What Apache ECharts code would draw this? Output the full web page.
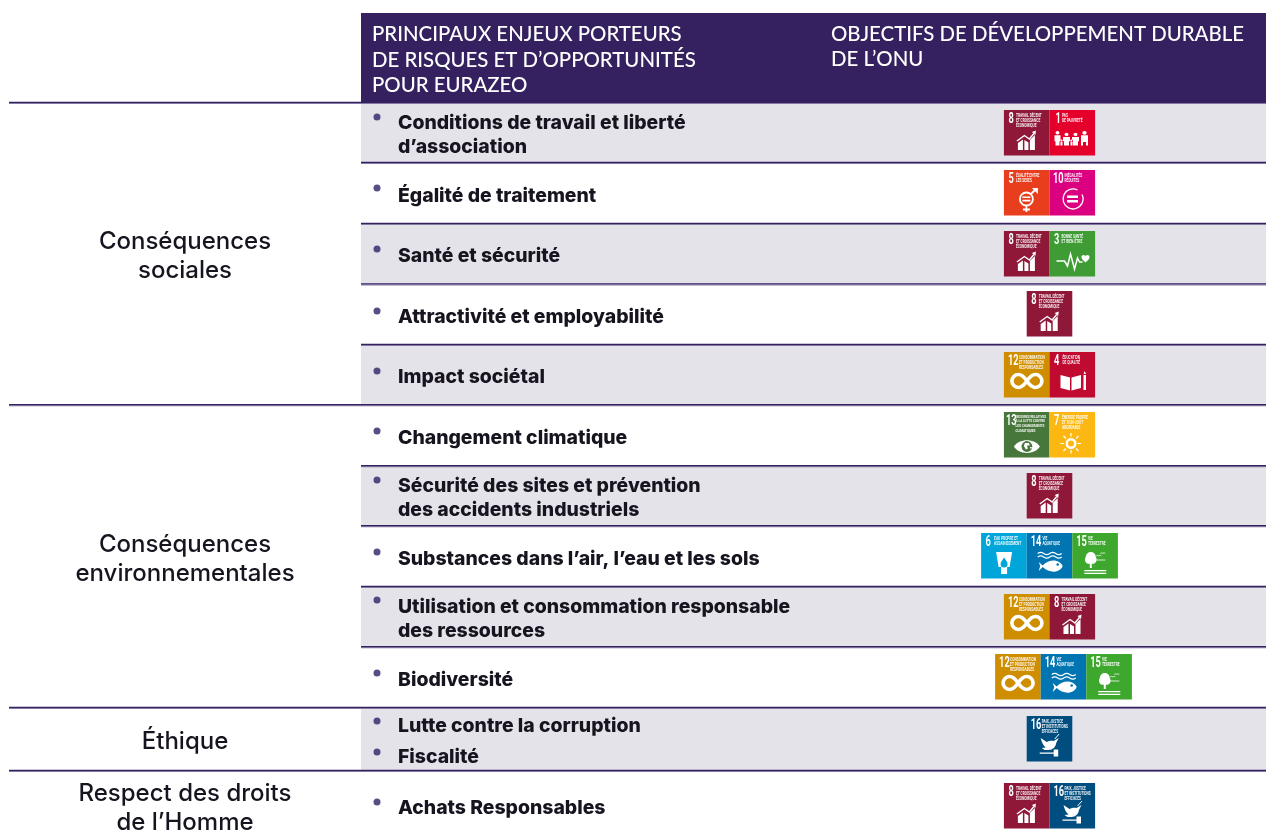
<!DOCTYPE html>
<html><head><meta charset="utf-8">
<style>html,body{margin:0;padding:0;background:#fff}#c{width:1266px;height:834px}</style>
<script src="https://cdn.jsdelivr.net/npm/echarts@6/dist/echarts.min.js"></script>
</head><body><div id="c"></div>
<script>
// ---------- content ----------
const headerLeft = ["PRINCIPAUX ENJEUX PORTEURS", "DE RISQUES ET D’OPPORTUNITÉS", "POUR EURAZEO"];
const headerRight = ["OBJECTIFS DE DÉVELOPPEMENT DURABLE", "DE L’ONU"];
const groupLabels = [["Conséquences", "sociales"], ["Conséquences", "environnementales"], ["Éthique"], ["Respect des droits", "de l’Homme"]];
const issues = [
  ["Conditions de travail et liberté", "d’association"],
  ["Égalité de traitement"],
  ["Santé et sécurité"],
  ["Attractivité et employabilité"],
  ["Impact sociétal"],
  ["Changement climatique"],
  ["Sécurité des sites et prévention", "des accidents industriels"],
  ["Substances dans l’air, l’eau et les sols"],
  ["Utilisation et consommation responsable", "des ressources"],
  ["Biodiversité"],
  ["Lutte contre la corruption", "Fiscalité"],
  ["Achats Responsables"]
];
const rowGoals = [[8,1],[5,10],[8,3],[8],[12,4],[13,7],[8],[6,14,15],[12,8],[12,14,15],[16],[8,16]];
const goalNames = {
  1:["PAS","DE PAUVRETÉ"], 3:["BONNE SANTÉ","ET BIEN-ÊTRE"], 4:["ÉDUCATION","DE QUALITÉ"],
  5:["ÉGALITÉ ENTRE","LES SEXES"], 6:["EAU PROPRE ET","ASSAINISSEMENT"], 7:["ÉNERGIE PROPRE","ET D’UN COÛT","ABORDABLE"],
  8:["TRAVAIL DÉCENT","ET CROISSANCE","ÉCONOMIQUE"], 10:["INÉGALITÉS","RÉDUITES"],
  12:["CONSOMMATION","ET PRODUCTION","RESPONSABLES"], 13:["MESURES RELATIVES","À LA LUTTE CONTRE","LES CHANGEMENTS","CLIMATIQUES"],
  14:["VIE","AQUATIQUE"], 15:["VIE","TERRESTRE"], 16:["PAIX, JUSTICE","ET INSTITUTIONS","EFFICACES"]
};
const goalColors = {1:"#E4002B",3:"#3F9C35",4:"#C00A30",5:"#E83E1E",6:"#00A6D9",7:"#FDB713",8:"#8F1838",10:"#DB0080",12:"#CF8D00",13:"#48773C",14:"#0075B2",15:"#3EA72D",16:"#004E7F"};

// ---------- layout ----------
const W = 1266, H = 834;
const ruleY = [102.7,162.7,223.7,284.2,344.7,405,466,526,586.7,647,707.7,770.7];
const groupRuleRows = [0,5,10,11];
const tileTop = [110,170,231,291,352,412,473,533,594,654,716,783];
const tileCentre = [1049.5,1049.5,1049.5,1049.5,1049.5,1049.5,1049.5,1049.5,1049.5,1063.5,1049.5,1049.5];
const lineY = [[122,146],[195],[255],[316],[376],[437],[485,509],[558],[606,630],[679],[725,756],[807]];
const bulletY = [[117],[188],[249],[311],[371],[431],[480],[552],[600],[673],[721,752],[802]];
const groupLineY = [[241,270],[544,573],[740.5],[793,822]];
const headerLeftY = [34,59.5,85], headerRightY = [33.5,59];
const TEXT_DY = 1.5, GROUP_DY = 1, HEAD_DY = 0.8;
const TILE = 45.6;
const INK="#17141F", PURPLE="#35215F", BAND="#E5E3EA", RULE="#35215F";
const BODY="Inter, sans-serif", TILEFONT="Roboto, sans-serif";
const numX = {1:6,3:4.5,4:4.5,5:4.5,6:4.5,7:4.5,8:4.5,10:3.5,12:4,13:2,14:4,15:4,16:4};
const capX = {1:12.5,3:12,4:13,5:12,6:13,7:12.5,8:12,10:15,12:15,13:11.7,14:15.7,15:15.7,16:15};

// icons in tile-local units (46 x 46): f = filled path, s = stroked path, f2 = filled above the cut-out
const icons = {
 1:{f:"M9 25a2 2 0 1 0 .01 0ZM18 27a2 2 0 1 0 .01 0ZM27 27a2 2 0 1 0 .01 0ZM36 25a2.200 2.200 0 1 0 .01 0ZM6 30h6v7h-1v5H7v-5H6ZM14.500 32h7v5h-1v5h-5v-5h-1ZM23.500 32h7v5h-1v5h-5v-5h-1ZM32.500 30h7v12h-2v-4h-3v4h-2ZM12.800 35a1.300 1.300 0 1 0 .01 0ZM23 35a1.300 1.300 0 1 0 .01 0ZM12 38h2v4h-2ZM22 38h2v4h-2Z",t:[-1,-.25,1,.85]},
 3:{s:"M7 30H15L18 35L21 23L25 38L28 27L30 31H33",f:"M36 25c1.500-2 4.500-1 4 1.500c-.4 2-2.400 3.500-4 5c-1.600-1.500-3.600-3-4-5c-.5-2.500 2.500-3.500 4-1.500Z"},
 4:{f:"M11 23L20.500 25.500V38.500L11 36ZM22 25.500L31.500 23V36L22 38.500ZM34 23h2.500v15H34ZM34 22l1.250-3l1.250 3Z"},
 5:{s:"M29 29a6.500 6.500 0 1 0-13 0a6.500 6.500 0 1 0 13 0ZM22.500 35.500V42M19 39.500H26M27 24L31.500 19.500",f:"M28 18H34V24ZM18.500 26.500h8v1.600h-8ZM18.500 29.800h8v1.600h-8Z",w:1.8},
 6:{f:"M15 19H31L28.500 34H26V41H20V34H17.500ZM23 24.500C21 27.500 19.500 29 19.500 31a3.500 3.500 0 0 0 7 0c0-2-1.500-3.500-3.500-6.500Z"},
 7:{s:"M21.500 21V24.500M21.500 38V41.500M11 31.500H14.500M28 31.500H31.500M14 24L16.500 26.500M26.500 36.500L29 39M14 39L16.500 36.500M26.500 26.500L29 24",f:"M21.500 26a5.500 5.500 0 1 0 .01 0ZM21.500 28.500a3 3 0 1 1-.01 0Z",w:1.2},
 8:{f:"M14 33L19 29.500V40H14ZM20.500 30L24.500 32.500V40H20.500ZM26 30L31 25V40H26Z",s:"M13 31L20.500 25.500L25.500 29L30 23.500",a:"M28 22L32 20.500L31.500 25Z",w:1.4},
 10:{s:"M28 20a10 10 0 1 0 4.500 4.500",f:"M17.500 25.500h11v2.400h-11ZM17.500 30h11v2.400h-11Z",w:1.3},
 12:{s:"M23 29C20 24.500 17 22.500 14.500 22.500a6.500 6.500 0 0 0 0 13C17 35.500 20 33.500 23 29C26 24.500 29 22.500 31.500 22.500a6.500 6.500 0 0 1 0 13C29 35.500 26 33.500 23 29Z",w:3.6},
 13:{f:"M10 34.500C15 26 31 26 36 34.500C31 43 15 43 10 34.500Z",f2:"M21 31h4l1 2.500h-3l1 3l-2 1l-2-3.500ZM26 35h2l-1 2.500Z",cut:[23,34.5,5.4]},
 14:{s:"M11 20.500c2-1.400 4-1.400 6 0s4 1.400 6 0s4-1.400 6 0s4 1.400 6 0M11 24c2-1.400 4-1.400 6 0s4 1.400 6 0s4-1.400 6 0s4 1.400 6 0",f:"M12 29L16 32.500C19.500 28.500 25 27 29 27.700C32.500 28.300 35 30.500 36 33C35 35.800 32.500 37.800 29 38.500C25 39.300 19.500 37.500 16 34L12 38L13.500 33Z",w:1.2,eye:[31,31.5,1.3]},
 15:{f:"M18.500 19a5 5 0 0 1 5 5a4.500 4.500 0 0 1-2 6.800H19.500V35H17.500V30.800H15.500A4.500 4.500 0 0 1 13.500 24a5 5 0 0 1 5-5ZM12 37H34V38.300H12ZM12 39.800H34V41H12Z",s:"M24 23c.8-.8 1.700-.8 2.500 0c.8-.8 1.700-.8 2.500 0M28 20.500c.8-.8 1.700-.8 2.500 0c.8-.8 1.700-.8 2.500 0M24 27H33",w:.8},
 16:{f:"M14 22L20 26C22 25 25 24.500 27 25L32 22L29.500 27C29 31 26 34 22 34H18L15 32L19 31.500C16 29 15 26 14 22ZM13 36.500H27V37.800H13ZM27 33.500H31.500V40.500H27Z",s:"M28 23L32.500 18",w:1}
};

// ---------- data for the series ----------
const bandData = issues.map((_, i) => i).filter(i => i % 2 === 0 && i < 11);
const bandTops = [...ruleY, H];
const tiles = [];
rowGoals.forEach((gs, r) => {
  const start = tileCentre[r] - gs.length * TILE / 2;
  gs.forEach((g, k) => tiles.push([start + k * TILE, tileTop[r], g]));
});
const bullets = [];
bulletY.forEach(ys => ys.forEach(y => bullets.push([377, y])));
const textRows = [];
issues.forEach((ls, r) => ls.forEach((t, k) => textRows.push([398, lineY[r][k] + TEXT_DY, t])));
const groupText = [];
groupLabels.forEach((ls, g) => ls.forEach((t, k) => groupText.push([185, groupLineY[g][k] + GROUP_DY, t])));
const headText = [
  ...headerLeft.map((t, k) => [372, headerLeftY[k] + HEAD_DY, t]),
  ...headerRight.map((t, k) => [831, headerRightY[k] + HEAD_DY, t])
];

function textSeries(data, style) {
  return { type: 'custom', silent: true, clip: false, z: 5,
    encode: { x: 0, y: 1 }, data,
    renderItem(p, api) {
      const pt = api.coord([api.value(0), api.value(1)]);
      return { type: 'text', style: Object.assign({ text: data[p.dataIndex][2], x: pt[0], y: pt[1], verticalAlign: 'middle' }, style) };
    } };
}

const chart = echarts.init(document.getElementById('c'), null, { renderer: 'canvas', width: W, height: H });
chart.setOption({
  animation: false,
  backgroundColor: '#fff',
  grid: { left: 0, right: 0, top: 0, bottom: 0 },
  xAxis: { type: 'value', min: 0, max: W, show: false },
  yAxis: { type: 'value', min: 0, max: H, inverse: true, show: false },
  series: [
    { // header block
      type: 'custom', silent: true, z: 1, data: [[361, 13, W, ruleY[0]]], encode: { x: [0, 2], y: [1, 3] },
      renderItem(p, api) {
        const a = api.coord([api.value(0), api.value(1)]), b = api.coord([api.value(2), api.value(3)]);
        return { type: 'rect', shape: { x: a[0], y: a[1], width: b[0] - a[0], height: b[1] - a[1] }, style: { fill: PURPLE } };
      }
    },
    { // alternating bands
      type: 'custom', silent: true, z: 1, data: bandData.map(r => [361, bandTops[r], W, bandTops[r + 1]]), encode: { x: [0, 2], y: [1, 3] },
      renderItem(p, api) {
        const a = api.coord([api.value(0), api.value(1)]), b = api.coord([api.value(2), api.value(3)]);
        return { type: 'rect', shape: { x: a[0], y: a[1], width: b[0] - a[0], height: b[1] - a[1] }, style: { fill: BAND } };
      }
    },
    { // row rules
      type: 'custom', silent: true, z: 2,
      data: ruleY.map((y, i) => [groupRuleRows.includes(i) ? 9 : 361, y, W]), encode: { x: [0, 2], y: 1 },
      renderItem(p, api) {
        const a = api.coord([api.value(0), api.value(1)]), b = api.coord([api.value(2), api.value(1)]);
        return { type: 'group', children: [
          { type: 'rect', shape: { x: a[0], y: a[1] + 0.4, width: b[0] - a[0], height: 0.9 }, style: { fill: '#8479A3' } },
          { type: 'rect', shape: { x: a[0], y: a[1] - 1, width: b[0] - a[0], height: 1.4 }, style: { fill: RULE } }
        ] };
      }
    },
    { // bullets
      type: 'scatter', silent: true, z: 4, data: bullets, symbol: 'circle', symbolSize: 7,
      itemStyle: { color: '#2F2168' }
    },
    textSeries(headText, { fill: '#fff', fontFamily: "Lato, sans-serif", fontSize: 20.4, fontWeight: 500 }),
    textSeries(textRows, { fill: INK, fontFamily: BODY, fontSize: 19.4, fontWeight: 800 }),
    textSeries(groupText, { fill: INK, fontFamily: BODY, fontSize: 24, fontWeight: 500, align: 'center' }),
    { // SDG tiles
      type: 'custom', silent: true, clip: false, z: 6, data: tiles, encode: { x: 0, y: 1 },
      renderItem(p, api) {
        const pt = api.coord([api.value(0), api.value(1)]);
        const s = api.size([TILE, TILE]);
        const g = api.value(2);
        const ic = icons[g] || {};
        const names = goalNames[g];
        const four = names.length > 3;
        const kids = [
          { type: 'rect', shape: { x: 0, y: 0, width: s[0], height: s[1] }, style: { fill: goalColors[g] } },
          { type: 'text', x: numX[g], y: 9, scaleX: 0.66, style: { text: String(g), x: 0, y: 0, verticalAlign: 'middle', fill: '#fff', fontFamily: TILEFONT, fontSize: 14, fontWeight: 700 } }
        ];
        names.forEach((t, k) => kids.push({ type: 'text', x: capX[g], y: (four ? 4.6 : 5.8) + k * (four ? 4.7 : 5.1), scaleX: four ? 0.72 : 0.66,
          style: { text: t, x: 0, y: 0, verticalAlign: 'middle', fill: '#fff', opacity: 0.92, fontFamily: TILEFONT, fontSize: four ? 4.3 : 4.9, fontWeight: 700 } }));
        const t = ic.t || [0, 0, 1, 1];
        const art = [];
        if (ic.f) art.push({ type: 'path', shape: { pathData: ic.f }, style: { fill: '#fff', stroke: null } });
        if (ic.a) art.push({ type: 'path', shape: { pathData: ic.a }, style: { fill: '#fff', stroke: null } });
        if (ic.s) art.push({ type: 'path', shape: { pathData: ic.s }, style: { fill: null, stroke: '#fff', lineWidth: ic.w || 1.5 } });
        if (ic.cut) art.push({ type: 'circle', shape: { cx: ic.cut[0], cy: ic.cut[1], r: ic.cut[2] }, style: { fill: goalColors[g] } });
        if (ic.f2) art.push({ type: 'path', shape: { pathData: ic.f2 }, style: { fill: '#fff', stroke: null } });
        if (ic.eye) art.push({ type: 'circle', shape: { cx: ic.eye[0], cy: ic.eye[1], r: ic.eye[2] }, style: { fill: goalColors[g] } });
        kids.push({ type: 'group', x: t[0], y: t[1], scaleX: t[2], scaleY: t[3], children: art });
        return { type: 'group', x: pt[0], y: pt[1], children: kids };
      }
    }
  ]
});
</script></body></html>
